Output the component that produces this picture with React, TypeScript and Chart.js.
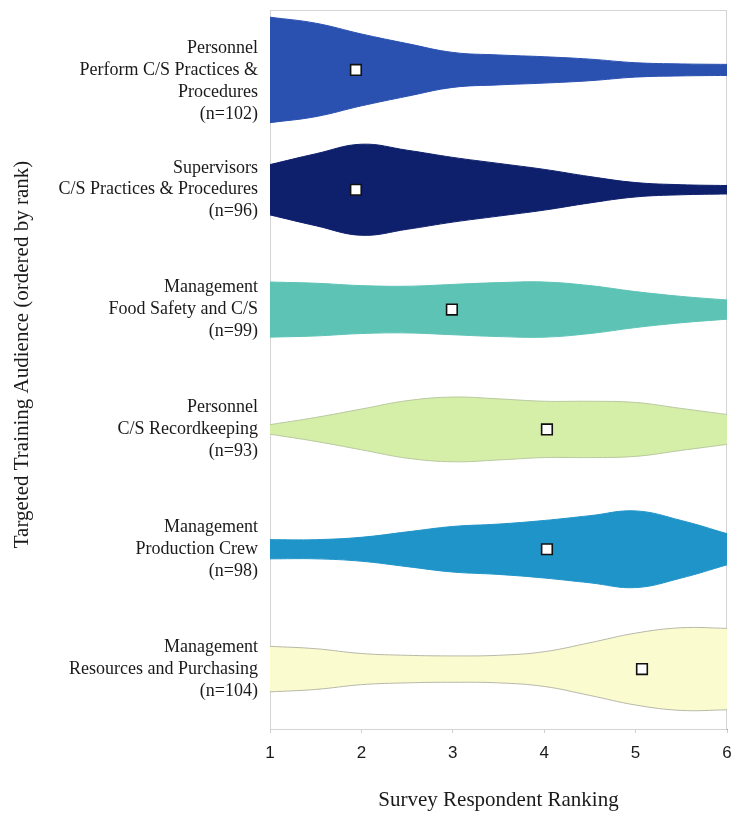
import React, { useEffect, useRef } from "react";
import { Chart, registerables } from "chart.js";

Chart.register(...registerables);

// Ranking grid (x) on which each violin's half-width is sampled
const RANKS = [1, 1.5, 2, 2.5, 3, 3.5, 4, 4.5, 5, 5.5, 6];

// Audience labels, top to bottom (leading blank line keeps the 4-line label lower)
const AUDIENCES = [
  ["", "Personnel", "Perform C/S Practices &", "Procedures", "(n=102)"],
  ["Supervisors", "C/S Practices & Procedures", "(n=96)"],
  ["Management", "Food Safety and C/S", "(n=99)"],
  ["Personnel", "C/S Recordkeeping", "(n=93)"],
  ["Management", "Production Crew", "(n=98)"],
  ["Management", "Resources and Purchasing", "(n=104)"],
];

// Density half-widths (in row units) per audience, sampled at RANKS
const WIDTH_PERSONNEL_PRACTICES = [0.44, 0.39, 0.3, 0.22, 0.146, 0.125, 0.11, 0.09, 0.06, 0.05, 0.046];
const WIDTH_SUPERVISORS = [0.21, 0.3, 0.38, 0.33, 0.27, 0.22, 0.17, 0.11, 0.06, 0.042, 0.035];
const WIDTH_FOOD_SAFETY = [0.23, 0.22, 0.2, 0.195, 0.21, 0.225, 0.23, 0.2, 0.15, 0.11, 0.08];
const WIDTH_RECORDKEEPING = [0.04, 0.1, 0.17, 0.24, 0.27, 0.255, 0.235, 0.235, 0.225, 0.175, 0.125];
const WIDTH_PRODUCTION_CREW = [0.08, 0.08, 0.1, 0.145, 0.19, 0.21, 0.24, 0.28, 0.32, 0.24, 0.13];
const WIDTH_RESOURCES = [0.19, 0.17, 0.13, 0.115, 0.11, 0.115, 0.145, 0.22, 0.3, 0.345, 0.34];

const HALF_WIDTHS = [
  WIDTH_PERSONNEL_PRACTICES,
  WIDTH_SUPERVISORS,
  WIDTH_FOOD_SAFETY,
  WIDTH_RECORDKEEPING,
  WIDTH_PRODUCTION_CREW,
  WIDTH_RESOURCES,
];

// Mean ranking per audience
const MEAN_RANK = [1.94, 1.94, 2.99, 4.03, 4.03, 5.07];

const FILL_COLORS = ["#2a50b0", "#0e1f6c", "#5cc3b5", "#d5eea8", "#1f94c9", "#fbfbd0"];
const EDGE_COLORS = ["#2a50b0", "#0e1f6c", "#5cc3b5", "#b9c9a0", "#1f94c9", "#b8b8a8"];

const Y_TITLE = "Targeted Training Audience (ordered by rank)";

const SERIF = "'Liberation Serif', 'Times New Roman', serif";
const SANS = "'Liberation Sans', Arial, sans-serif";

// Light frame round the plot area and the rotated y-axis title
const framePlugin = {
  id: "plotFrame",
  beforeDatasetsDraw(chart: any) {
    const { ctx, chartArea } = chart;
    ctx.save();
    ctx.strokeStyle = "#d4d4d4";
    ctx.lineWidth = 1;
    ctx.strokeRect(
      chartArea.left + 0.5,
      chartArea.top + 0.5,
      chartArea.right - chartArea.left - 1,
      chartArea.bottom - chartArea.top
    );
    ctx.restore();
  },
  afterDraw(chart: any) {
    const { ctx, chartArea } = chart;
    ctx.save();
    ctx.translate(22, (chartArea.top + chartArea.bottom) / 2 - 15);
    ctx.rotate(-Math.PI / 2);
    ctx.fillStyle = "#1a1a1a";
    ctx.font = `21px ${SERIF}`;
    ctx.textAlign = "center";
    ctx.textBaseline = "middle";
    ctx.fillText(Y_TITLE, 0, 0);
    ctx.restore();
  },
};

export default function App() {
  const canvasRef = useRef<HTMLCanvasElement | null>(null);

  useEffect(() => {
    const canvas = canvasRef.current;
    if (!canvas) return;

    const datasets: any[] = [
      {
        type: "scatter",
        label: "Mean",
        data: MEAN_RANK.map((m, i) => ({ x: m, y: i + 1 })),
        pointStyle: "rect",
        pointRadius: 7.5,
        pointBackgroundColor: "#ffffff",
        pointBorderColor: "#111111",
        pointBorderWidth: 1.6,
        showLine: false,
        order: 0,
      },
    ];

    HALF_WIDTHS.forEach((widths, i) => {
      const center = i + 1;
      datasets.push({
        type: "line",
        label: AUDIENCES[i].join(" ") + " upper",
        data: RANKS.map((r, k) => ({ x: r, y: center - widths[k] })),
        borderColor: EDGE_COLORS[i],
        borderWidth: 1,
        pointRadius: 0,
        tension: 0.4,
        fill: false,
        order: 1,
      });
      datasets.push({
        type: "line",
        label: AUDIENCES[i].join(" ") + " lower",
        data: RANKS.map((r, k) => ({ x: r, y: center + widths[k] })),
        borderColor: EDGE_COLORS[i],
        borderWidth: 1,
        backgroundColor: FILL_COLORS[i],
        pointRadius: 0,
        tension: 0.4,
        fill: "-1",
        order: 1,
      });
    });

    const chart = new Chart(canvas, {
      type: "line",
      data: { datasets },
      plugins: [framePlugin],
      options: {
        animation: false,
        responsive: false,
        layout: { autoPadding: false, padding: { left: 0, right: 4, top: 10, bottom: 0 } },
        plugins: {
          legend: { display: false },
          tooltip: { enabled: false },
        },
        scales: {
          x: {
            type: "linear",
            min: 1,
            max: 6,
            afterFit(scale: any) {
              scale.height = 84;
              scale.paddingLeft = 0;
              scale.paddingRight = 0;
            },
            border: { display: true, color: "#9a9a9a", width: 1 },
            grid: { display: true, drawOnChartArea: false, drawTicks: true, tickLength: 4, color: "#cfcfcf" },
            ticks: {
              stepSize: 1,
              padding: 10,
              color: "#1a1a1a",
              font: { family: SANS, size: 17 },
              maxRotation: 0,
            },
            title: {
              display: true,
              text: "Survey Respondent Ranking",
              color: "#1a1a1a",
              font: { family: SERIF, size: 21 },
              padding: { top: 0, bottom: 0 },
            },
          },
          y: {
            type: "linear",
            min: 0.5,
            max: 6.5,
            reverse: true,
            afterFit(scale: any) {
              scale.width = 270;
              scale.paddingTop = 0;
              scale.paddingBottom = 0;
            },
            afterBuildTicks(scale: any) {
              scale.ticks = AUDIENCES.map((_, i) => ({ value: i + 1 }));
            },
            border: { display: false },
            grid: { display: false, drawTicks: false },
            ticks: {
              autoSkip: false,
              padding: 12,
              color: "#1a1a1a",
              font: { family: SERIF, size: 18, lineHeight: 1.22 },
              callback: (value: any) => AUDIENCES[Math.round(Number(value)) - 1] ?? "",
            },
          },
        },
      },
    });

    return () => chart.destroy();
  }, []);

  return (
    <div style={{ position: "fixed", left: 0, top: 0, width: 731, height: 813, background: "#ffffff" }}>
      <canvas ref={canvasRef} width={731} height={813} style={{ display: "block" }} />
    </div>
  );
}
